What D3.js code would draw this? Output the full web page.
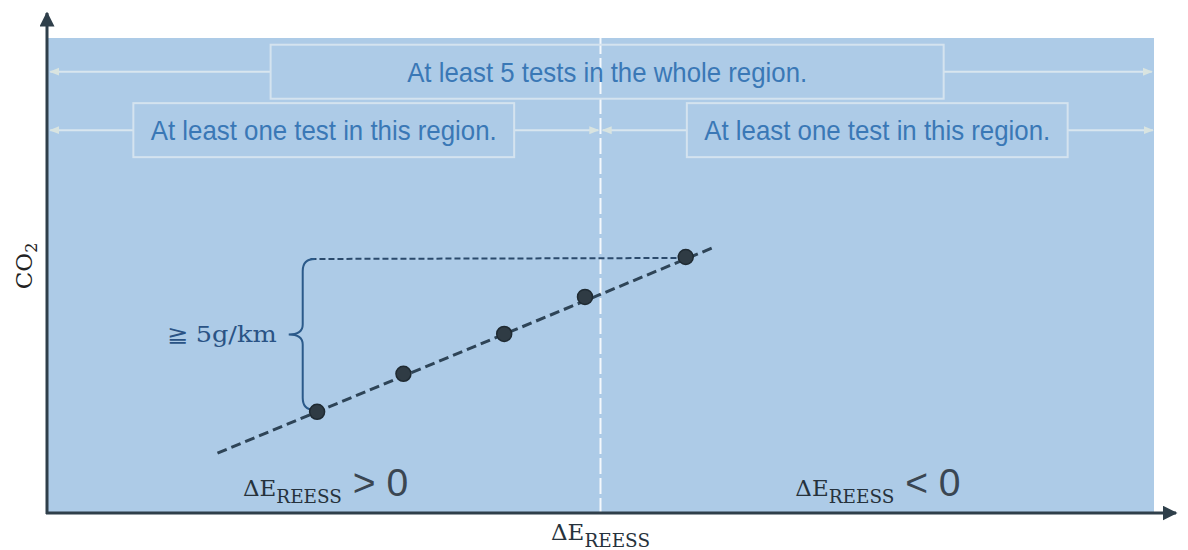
<!DOCTYPE html>
<html><head><meta charset="utf-8">
<script src="https://cdn.jsdelivr.net/npm/d3@7"></script>
<style>body{margin:0;background:#fff}svg{display:block}</style>
</head><body><svg id="c" width="1188" height="550"></svg>
<script>
// ---- data (abstract units) ----
const testX = [24.4, 32.2, 41.3, 48.6, 57.7];
const testY = [21.3, 29.3, 37.7, 45.5, 53.9];
const fitX = [15.4, 60.1];
const fitY = [12.6, 55.8];
const divider = 50;
const regionLabels = ["At least 5 tests in the whole region.", "At least one test in this region.", "At least one test in this region."];
const regionBoxX0 = [20.2, 7.8, 57.8];
const regionBoxX1 = [81.0, 42.2, 92.2];
const regionSpanX0 = [0.3, 0.3, 50.2];
const regionSpanX1 = [99.8, 49.8, 99.9];
const regionRowY = [92.9, 80.6, 80.6];
const bracketLabel = "≧ 5g/km";

const svg = d3.select("#c");
const x = d3.scaleLinear().domain([0, 100]).range([47, 1154]);
const y = d3.scaleLinear().domain([0, 100]).range([513, 38]);
const dark = "#2e4457";

// background
svg.append("rect").attr("x", x(0)).attr("y", y(100)).attr("width", x(100)-x(0)).attr("height", y(0)-y(100)).attr("fill", "#adcbe7");

// divider
svg.append("line").attr("x1", x(divider)).attr("x2", x(divider)).attr("y1", y(100)).attr("y2", y(0))
  .attr("stroke", "#f4f8fc").attr("stroke-width", 2).attr("stroke-dasharray", "16,4");

// arrow markers
const defs = svg.append("defs");
defs.append("marker").attr("id", "la").attr("viewBox", "0 0 10 10").attr("refX", 9).attr("refY", 5)
  .attr("markerWidth", 5).attr("markerHeight", 5).attr("orient", "auto-start-reverse")
  .append("path").attr("d", "M0,1L10,5L0,9z").attr("fill", "#d9e4e0");
defs.append("marker").attr("id", "ax").attr("viewBox", "0 0 10 10").attr("refX", 9).attr("refY", 5)
  .attr("markerWidth", 5).attr("markerHeight", 5).attr("markerUnits", "strokeWidth").attr("orient", "auto")
  .append("path").attr("d", "M0,0L10,5L0,10z").attr("fill", "#2f3f4a");

// region boxes + span arrows
regionLabels.forEach((t, i) => {
  const yc = y(regionRowY[i]);
  const g = svg.append("g");
  g.append("line").attr("x1", x(regionBoxX0[i])).attr("x2", x(regionSpanX0[i])).attr("y1", yc).attr("y2", yc)
    .attr("stroke", "#d9e6ef").attr("stroke-width", 2).attr("marker-end", "url(#la)");
  g.append("line").attr("x1", x(regionBoxX1[i])).attr("x2", x(regionSpanX1[i])).attr("y1", yc).attr("y2", yc)
    .attr("stroke", "#d9e6ef").attr("stroke-width", 2).attr("marker-end", "url(#la)");
  g.append("rect").attr("x", x(regionBoxX0[i])).attr("y", yc - 27).attr("width", x(regionBoxX1[i]) - x(regionBoxX0[i])).attr("height", 54)
    .attr("fill", "none").attr("stroke", "#d4e3ef").attr("stroke-width", 2);
  const w = i === 0 ? 400 : 346;
  g.append("text").attr("x", (x(regionBoxX0[i]) + x(regionBoxX1[i])) / 2).attr("y", yc + 10)
    .attr("text-anchor", "middle").attr("font-family", "Liberation Sans, Arial, sans-serif").attr("font-size", 28)
    .attr("fill", "#3a78b6").attr("textLength", w).attr("lengthAdjust", "spacingAndGlyphs").text(t);
});

// axes
svg.append("line").attr("x1", x(0)).attr("x2", x(0)).attr("y1", y(0) + 1).attr("y2", 13)
  .attr("stroke", "#2f3f4a").attr("stroke-width", 3).attr("marker-end", "url(#ax)");
svg.append("line").attr("x1", x(0) - 1).attr("x2", 1176).attr("y1", y(0)).attr("y2", y(0))
  .attr("stroke", "#2f3f4a").attr("stroke-width", 3).attr("marker-end", "url(#ax)");

// horizontal reference line from top point
const topIdx = testY.length - 1;
svg.append("line").attr("x1", x(23.8)).attr("x2", x(testX[topIdx])).attr("y1", y(testY[topIdx]) + 2).attr("y2", y(testY[topIdx]) + 1)
  .attr("stroke", "#2b4a6c").attr("stroke-width", 2).attr("stroke-dasharray", "6,3");

// fit line
svg.append("line").attr("x1", x(fitX[0])).attr("y1", y(fitY[0])).attr("x2", x(fitX[1])).attr("y2", y(fitY[1]))
  .attr("stroke", dark).attr("stroke-width", 3).attr("stroke-dasharray", "10,5");

// brace
const bx = x(23.1), yTop = y(testY[topIdx]) + 2, yBot = y(testY[0]) - 2, yMid = (yTop + yBot) / 2;
const brace = d3.path();
brace.moveTo(x(24.2), yTop);
brace.quadraticCurveTo(bx, yTop, bx, yTop + 12);
brace.lineTo(bx, yMid - 10);
brace.quadraticCurveTo(bx, yMid, bx - 14, yMid);
brace.quadraticCurveTo(bx, yMid, bx, yMid + 10);
brace.lineTo(bx, yBot - 12);
brace.quadraticCurveTo(bx, yBot, x(testX[0]) - 3, yBot);
svg.append("path").attr("d", brace.toString()).attr("fill", "none").attr("stroke", "#2b5a8a").attr("stroke-width", 2);
svg.append("text").attr("x", bx - 26).attr("y", yMid + 8).attr("text-anchor", "end")
  .attr("font-family", "DejaVu Serif, serif").attr("font-size", 22).attr("fill", "#2a5385")
  .attr("textLength", 110).attr("lengthAdjust", "spacingAndGlyphs").text(bracketLabel);

// points
svg.selectAll("circle.pt").data(testX).join("circle").attr("class", "pt")
  .attr("cx", d => x(d)).attr("cy", (d, i) => y(testY[i])).attr("r", 7.5)
  .attr("fill", "#2f3b44").attr("stroke", "#1f2a32").attr("stroke-width", 1.5);

// labels
function dE(sel, xPos, yPos, suffix, size) {
  const t = sel.append("text").attr("x", xPos).attr("y", yPos).attr("font-family", "DejaVu Serif, serif")
    .attr("font-size", size).attr("fill", "#26323c");
  t.append("tspan").text("ΔE");
  t.append("tspan").attr("font-size", size * 0.8).attr("dy", 7).text("REESS");
  if (suffix) t.append("tspan").attr("dy", -7).attr("font-size", size * 1.7).attr("font-family", "Liberation Sans, sans-serif").attr("fill", "#3a4652").text(" " + suffix);
  return t;
}
dE(svg, x(17.7), 496, "> 0", 23);
dE(svg, x(67.6), 496, "< 0", 23);
const xl = dE(svg, x(divider), 540, null, 23);
xl.attr("text-anchor", "middle");

svg.append("text").attr("transform", `translate(32,${y(52)}) rotate(-90)`).attr("text-anchor", "middle")
  .attr("font-family", "DejaVu Serif, serif").attr("font-size", 23).attr("fill", "#222")
  .html('CO<tspan font-size="16" dy="5">2</tspan>');
</script></body></html>
